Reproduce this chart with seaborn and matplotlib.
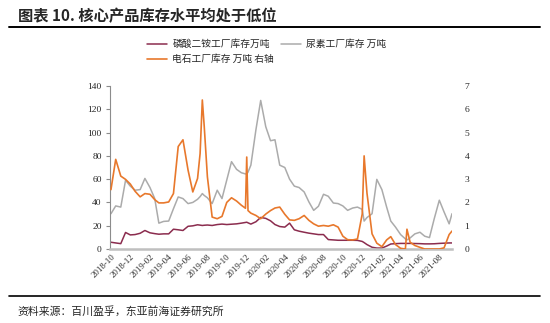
import matplotlib
matplotlib.use("Agg")
import matplotlib.pyplot as plt
from matplotlib.lines import Line2D
import seaborn as sns
import pandas as pd

# Semi-monthly observations (a few extra dates around sharp moves)
dates = [
    "2018-10-01", "2018-10-16", "2018-11-01", "2018-11-16", "2018-12-01", "2018-12-16",
    "2019-01-01", "2019-01-16", "2019-02-01", "2019-02-16", "2019-03-01", "2019-03-16",
    "2019-04-01", "2019-04-16", "2019-05-01", "2019-05-16", "2019-06-01", "2019-06-16",
    "2019-07-01", "2019-07-09", "2019-07-16", "2019-07-22", "2019-08-01", "2019-08-16",
    "2019-09-01", "2019-09-16", "2019-10-01", "2019-10-16", "2019-11-01", "2019-11-16",
    "2019-11-29", "2019-12-03", "2019-12-07", "2019-12-16",
    "2020-01-01", "2020-01-16", "2020-02-01", "2020-02-16", "2020-03-01", "2020-03-16",
    "2020-04-01", "2020-04-16", "2020-05-01", "2020-05-16", "2020-06-01", "2020-06-16",
    "2020-07-01", "2020-07-16", "2020-08-01", "2020-08-16", "2020-09-01", "2020-09-16",
    "2020-10-01", "2020-10-16", "2020-11-01", "2020-11-16", "2020-12-01", "2020-12-07",
    "2020-12-16",
    "2021-01-01", "2021-01-16", "2021-02-01", "2021-02-16", "2021-03-01", "2021-03-16",
    "2021-04-01", "2021-04-16", "2021-04-21", "2021-05-01", "2021-05-16", "2021-06-01",
    "2021-06-16", "2021-07-01", "2021-07-16", "2021-08-01", "2021-08-16", "2021-09-01",
    "2021-09-10",
]

# 磷酸二铵工厂库存（万吨，左轴）
dap_stock = [
    5.8, 5.2, 4.6, 14.2, 12.1, 12.4,
    13.5, 15.9, 13.9, 13.2, 12.7, 13.0,
    13.0, 17.0, 16.5, 15.9, 19.5, 19.9,
    20.8, 20.5, 20.2, 20.4, 20.6, 20.2,
    21.0, 21.4, 21.0, 21.3, 21.6, 22.2,
    22.8, 23.0, 22.5, 21.4,
    23.4, 27.1, 26.3, 24.2, 21.0, 19.3,
    18.8, 22.2, 16.5, 15.3, 14.4, 13.6,
    13.0, 12.4, 12.4, 8.1, 7.8, 7.5,
    7.5, 7.5, 7.5, 7.4, 6.5, 5.5,
    3.8,
    1.5, 0.8, 0.8, 2.5, 4.3, 4.6,
    4.8, 4.8, 4.8, 4.8, 4.7, 4.6,
    4.4, 4.4, 4.5, 4.8, 5.0, 5.2,
    5.2,
]

# 尿素工厂库存（万吨，左轴）
urea_stock = [
    30.3, 37.0, 36.0, 59.0, 54.0, 50.5,
    51.0, 60.6, 52.8, 43.3, 22.2, 23.7,
    24.0, 34.6, 44.7, 43.3, 39.0, 40.0,
    42.7, 45.0, 47.6, 46.0, 44.0, 39.0,
    50.5, 43.3, 59.2, 75.0, 68.4, 65.5,
    64.5, 64.4, 66.0, 72.0,
    102.5, 127.6, 105.0, 93.0, 93.8, 72.0,
    70.0, 60.0, 54.0, 52.8, 49.0, 40.4,
    33.2, 36.7, 47.0, 45.3, 39.5, 39.0,
    37.0, 33.2, 35.2, 36.0, 34.0, 24.0,
    27.0,
    30.3, 59.8, 51.0, 36.0, 24.0, 18.8,
    12.4, 8.7, 7.8, 9.5, 13.0, 14.4,
    11.0, 9.8, 26.0, 41.9, 31.8, 21.6,
    30.3,
]

# 电石工厂库存（万吨，右轴）
carbide_stock = [
    2.55, 3.85, 3.13, 2.99, 2.79, 2.48,
    2.24, 2.38, 2.35, 2.12, 1.98, 1.98,
    2.02, 2.38, 4.40, 4.69, 3.39, 2.45,
    3.03, 4.10, 6.40, 5.27, 3.10, 1.37,
    1.30, 1.40, 2.00, 2.20, 2.06, 1.88,
    1.75, 3.95, 1.65, 1.54,
    1.44, 1.30, 1.50, 1.65, 1.76, 1.80,
    1.49, 1.25, 1.23, 1.30, 1.44, 1.23,
    1.08, 0.98, 1.01, 0.98, 1.04, 0.94,
    0.55, 0.40, 0.39, 0.43, 1.50, 4.00,
    2.40,
    0.65, 0.25, 0.10, 0.39, 0.53, 0.19,
    0.03, 0.00, 0.85, 0.29, 0.15, 0.07,
    0.00, 0.00, 0.00, 0.00, 0.05, 0.62,
    0.77,
]

labels = ["磷酸二铵工厂库存万吨", "尿素工厂库存 万吨", "电石工厂库存 万吨 右轴"]
left_ticks = [0, 20, 40, 60, 80, 100, 120, 140]
right_ticks = [0, 1, 2, 3, 4, 5, 6, 7]

C_DAP = "#8B2C4E"
C_UREA = "#ABABAB"
C_CARB = "#E8782C"

sns.set_style("white")
plt.rcParams["font.family"] = ["Noto Sans CJK SC", "DejaVu Sans"]

df = pd.DataFrame({
    "date": pd.to_datetime(dates),
    "dap": dap_stock,
    "urea": urea_stock,
    "carbide": carbide_stock,
})

W, H = 550, 323
fig = plt.figure(figsize=(W / 100, H / 100), dpi=100)
ax = fig.add_axes([110 / W, 1 - 249 / H, (452 - 110) / W, (249 - 86) / H])
ax2 = ax.twinx()

sns.lineplot(data=df, x="date", y="dap", ax=ax, color=C_DAP, lw=1.1, legend=False)
sns.lineplot(data=df, x="date", y="urea", ax=ax, color=C_UREA, lw=1.1, legend=False)
sns.lineplot(data=df, x="date", y="carbide", ax=ax2, color=C_CARB, lw=1.2, legend=False)

ax.set_ylim(0, 140)
ax2.set_ylim(0, 7)
ax.set_xlim(pd.Timestamp("2018-09-28"), pd.Timestamp("2021-09-10"))
ax.set_yticks(left_ticks)
ax2.set_yticks(right_ticks)

xt = pd.date_range("2018-10-01", "2021-08-01", freq="2MS")
ax.set_xticks(xt)
ax.set_xticklabels([d.strftime("%Y-%m") for d in xt], rotation=45, ha="right",
                   va="top", rotation_mode="anchor")

for a in (ax, ax2):
    a.set_xlabel("")
    a.set_ylabel("")
    a.grid(False)
    for s in a.spines.values():
        s.set_visible(False)

ax.spines["left"].set_visible(True)
ax.spines["left"].set_color("#8C8C8C")
ax.spines["left"].set_linewidth(0.8)
ax.spines["bottom"].set_visible(True)
ax.spines["bottom"].set_color("#BFBFBF")
ax.spines["bottom"].set_linewidth(1.8)

ax.tick_params(axis="y", direction="out", length=3, width=0.8, color="#8C8C8C",
               labelsize=6.8, pad=3, left=True)
ax.tick_params(axis="x", length=0, pad=3, labelsize=6.3, bottom=True)
ax2.tick_params(axis="y", length=0, pad=9, labelsize=6.8)
for t in ax.get_xticklabels() + ax.get_yticklabels() + ax2.get_yticklabels():
    t.set_fontfamily("Liberation Serif")

# legend: two columns, second row holds the right-axis series
handles = [Line2D([], [], color=C_DAP, lw=1.1),
           Line2D([], [], color=C_CARB, lw=1.2),
           Line2D([], [], color=C_UREA, lw=1.1)]
fig.legend(handles, [labels[0], labels[2], labels[1]], ncol=2, frameon=False,
           loc="upper left", bbox_to_anchor=(147 / W, 1 - 39 / H), borderpad=0,
           fontsize=7, handlelength=2.1, handletextpad=0.5, columnspacing=0.7,
           labelspacing=0.55, borderaxespad=0)

# header, rules and source note
fig.text(18 / W, 1 - 16 / H, "图表 10. 核心产品库存水平均处于低位", fontsize=11,
         fontweight="bold", ha="left", va="center")
fig.add_artist(Line2D([9 / W, 540 / W], [1 - 26.7 / H] * 2, color="black", lw=1.4))
fig.add_artist(Line2D([9 / W, 540 / W], [1 - 296 / H] * 2, color="black", lw=1.2))
fig.text(17 / W, 1 - 311 / H, "资料来源：百川盈孚，东亚前海证券研究所", fontsize=7.8,
         ha="left", va="center")

fig.savefig("out.png", dpi=100, facecolor="white")
